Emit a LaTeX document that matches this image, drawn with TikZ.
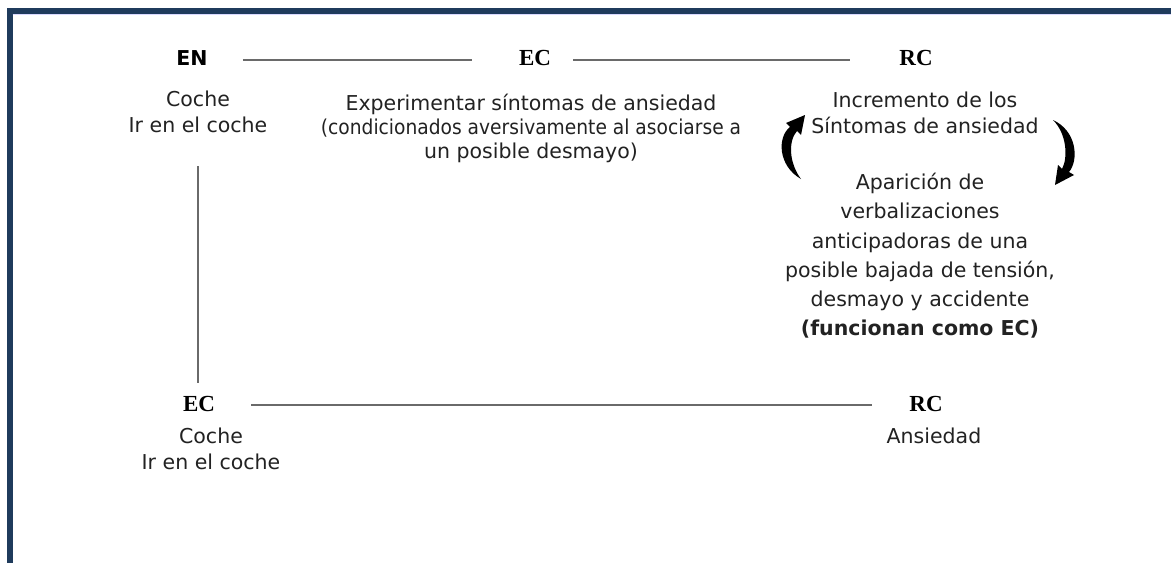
\documentclass[tikz,border=0pt]{standalone}
\usepackage{fontspec}
\setmainfont{DejaVu Sans}
\newfontfamily\hdrserif{Liberation Serif}
\usetikzlibrary{arrows.meta}
\definecolor{frameblue}{HTML}{1F3B5C}
\definecolor{linegray}{HTML}{6A6A6A}
\definecolor{txt}{HTML}{222222}
\begin{document}
\begin{tikzpicture}[x=1pt,y=-1pt,
  body/.style={align=center, inner sep=0pt, text=txt, font=\fontsize{20.5}{26}\selectfont},
  bodyr/.style={align=center, inner sep=0pt, text=txt, font=\fontsize{20.5}{29.2}\selectfont},
  hdrs/.style={inner sep=0pt, text=black, font=\hdrserif\bfseries\fontsize{23}{27}\selectfont},
  hdrn/.style={inner sep=0pt, text=black, font=\bfseries\fontsize{20.5}{24}\selectfont},
  conn/.style={draw=linegray, line width=1.8pt},
  cyc/.style={fill=black}
]
\useasboundingbox (0,0) rectangle (1171,563);
\fill[white] (0,0) rectangle (1171,563);
% frame
\fill[frameblue] (7,8) rectangle (1171,13.5);
\fill[frameblue] (7,8) rectangle (12.5,563);
\draw[color=blue!15, line width=1pt] (12.5,14) -- (1171,14);

% top row headers
\node[hdrn] (en) at (192,58) {EN};
\node[hdrs] (ec1) at (535,58) {EC};
\node[hdrs] (rc1) at (916,58) {RC};
\draw[conn, shorten <=35pt, shorten >=47pt] ([yshift=-2pt]en.east) -- ([yshift=-2pt]en.east -| ec1.west);
\draw[conn, shorten <=22pt, shorten >=49pt] ([yshift=-2pt]ec1.east) -- ([yshift=-2pt]ec1.east -| rc1.west);

% left column
\node[body, anchor=north] (ns) at (198,91) {Coche\\Ir en el coche};
% middle column
\node[body, anchor=north] (ecs) at (531,94) {Experimentar síntomas de ansiedad\\[-2pt]\scalebox{0.91}[1]{(condicionados aversivamente al asociarse a}\\[-2pt]un posible desmayo)};
% right column
\node[body, anchor=north] (rcs) at (925,92) {Incremento de los\\Síntomas de ansiedad};
\node[bodyr, anchor=north] (verb) at (920,173) {Aparición de\\verbalizaciones\\anticipadoras de una\\posible bajada de tensión,\\desmayo y accidente\\\textbf{(funcionan como EC)}};

% cycle arrows (filled crescents)
\fill[cyc] (801,179) .. controls (778,166) and (777,137) .. (790,127)
  -- (786,123) -- (805,115) -- (801,135) -- (797,131)
  .. controls (788,141) and (789,163) .. (801,179) -- cycle;
\fill[cyc] (1053,120) .. controls (1077,131) and (1079,160) .. (1069,172)
  -- (1074,175) -- (1055,185) -- (1058,165) -- (1062,169)
  .. controls (1068,158) and (1067,134) .. (1053,120) -- cycle;

% bottom row
\node[hdrs] (ec2) at (199,404) {EC};
\node[hdrs] (rc2) at (926,404) {RC};
\draw[conn, shorten <=36pt, shorten >=37pt] ([yshift=-1pt]ec2.east) -- ([yshift=-1pt]ec2.east -| rc2.west);
\draw[conn, shorten <=33pt, shorten >=13pt] (ns.south) -- (ns.south |- ec2.north);
\node[body, anchor=north] (ecb) at (211,428) {Coche\\Ir en el coche};
\node[body, anchor=north] (rcb) at (934,428) {Ansiedad};
\end{tikzpicture}
\end{document}
